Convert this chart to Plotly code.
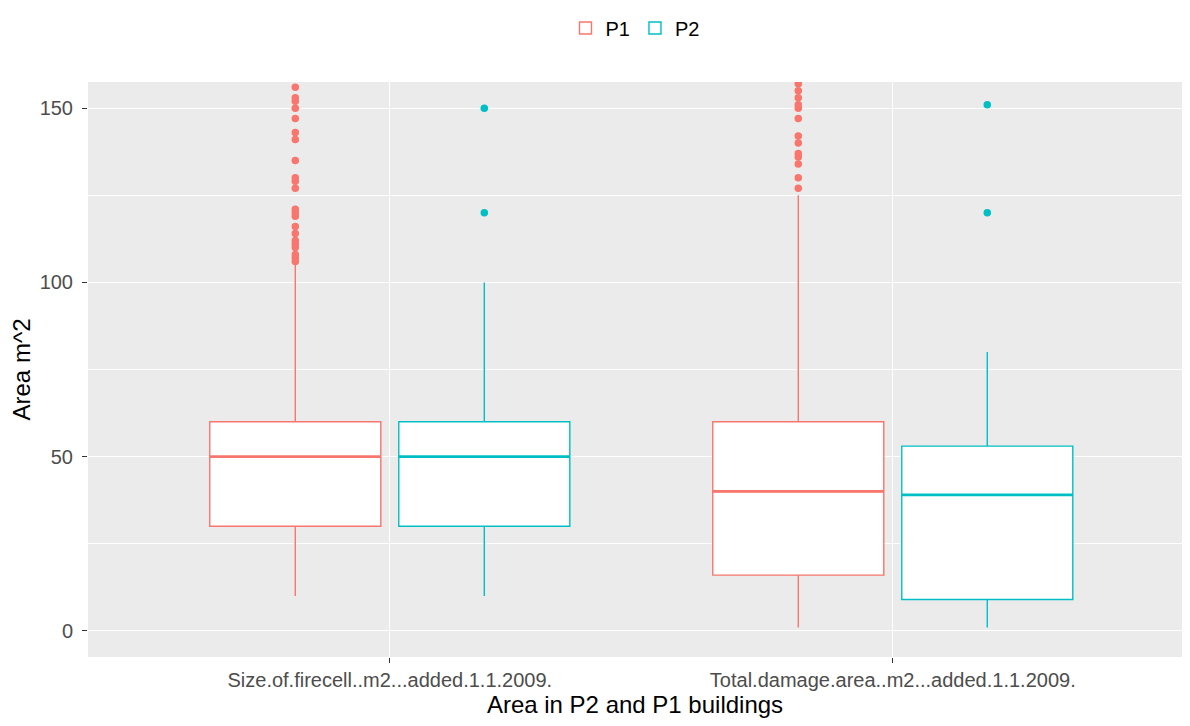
import plotly.graph_objects as go

categories = ["Size.of.firecell..m2...added.1.1.2009.", "Total.damage.area..m2...added.1.1.2009."]

# P1 box statistics (per category)
p1_q1 = [30, 16]
p1_median = [50, 40]
p1_q3 = [60, 60]
p1_lower = [10, 1]
p1_upper = [105, 125]
p1_out_cat1 = [106, 107, 108, 110, 111, 112, 114, 116, 119, 120, 121, 127, 129, 130, 135, 141, 143, 147, 150, 152, 153, 156]
p1_out_cat2 = [127, 130, 134, 136, 137, 140, 142, 147, 150, 151, 153, 155, 157, 158]

# P2 box statistics (per category)
p2_q1 = [30, 9]
p2_median = [50, 39]
p2_q3 = [60, 53]
p2_lower = [10, 1]
p2_upper = [100, 80]
p2_out_cat1 = [120, 150]
p2_out_cat2 = [120, 151]

col_p1 = "#F8766D"
col_p2 = "#00BFC4"

fig = go.Figure()

def add_group(name, color, q1, med, q3, lo, hi, out1, out2):
    # main box
    fig.add_trace(go.Box(
        name=name, x=categories, q1=q1, median=med, q3=q3,
        lowerfence=lo, upperfence=hi, boxpoints=False,
        fillcolor="white", line=dict(color=color, width=1.4),
        whiskerwidth=0, offsetgroup=name, legendgroup=name,
    ))
    # thicker median line (flat box at the median)
    fig.add_trace(go.Box(
        name=name, x=categories, q1=med, median=med, q3=med,
        lowerfence=med, upperfence=med, boxpoints=False,
        fillcolor="rgba(0,0,0,0)", line=dict(color=color, width=2.8),
        whiskerwidth=0, offsetgroup=name, legendgroup=name, showlegend=False,
        hoverinfo="skip",
    ))
    # outliers
    ox = [categories[0]] * len(out1) + [categories[1]] * len(out2)
    oy = list(out1) + list(out2)
    fig.add_trace(go.Box(
        name=name, x=ox, y=oy, boxpoints="all", jitter=0, pointpos=0,
        fillcolor="rgba(0,0,0,0)", line=dict(color="rgba(0,0,0,0)", width=0),
        marker=dict(color=color, size=7.5), whiskerwidth=0,
        offsetgroup=name, legendgroup=name, showlegend=False,
    ))

add_group("P1", col_p1, p1_q1, p1_median, p1_q3, p1_lower, p1_upper, p1_out_cat1, p1_out_cat2)
add_group("P2", col_p2, p2_q1, p2_median, p2_q3, p2_lower, p2_upper, p2_out_cat1, p2_out_cat2)

fig.update_layout(
    width=1174, height=710,
    margin=dict(l=80, r=0, t=74, b=61, autoexpand=False),
    paper_bgcolor="white", plot_bgcolor="#EBEBEB",
    boxmode="group", boxgap=0.2485, boxgroupgap=0.095,
    font=dict(family="Liberation Sans, Arial, sans-serif", color="#4D4D4D"),
    legend=dict(orientation="h", x=0.5, xanchor="center", y=1.094, yanchor="middle",
                font=dict(size=20, color="black"), bgcolor="rgba(0,0,0,0)",
                itemwidth=30, tracegroupgap=0),
    showlegend=True,
)

fig.update_xaxes(
    type="category", range=[-0.6, 1.575], automargin=False,
    showgrid=True, gridcolor="white", gridwidth=1.4,
    ticks="outside", ticklen=5, tickcolor="#333333", tickwidth=1,
    tickfont=dict(size=20, color="#4D4D4D"),
    title=dict(text="Area in P2 and P1 buildings", font=dict(size=24, color="black"), standoff=10),
    zeroline=False, showline=False,
)
fig.update_yaxes(
    range=[-7.5, 157.5], tickvals=[0, 50, 100, 150], automargin=False,
    showgrid=True, gridcolor="white", gridwidth=1.4,
    minor=dict(tickvals=[25, 75, 125], showgrid=True, gridcolor="white", gridwidth=0.7),
    ticks="outside", ticklen=5, tickcolor="#333333", tickwidth=1,
    tickfont=dict(size=20, color="#4D4D4D"), ticklabelstandoff=5,
    title=dict(text="Area m^2", font=dict(size=24, color="black"), standoff=6),
    zeroline=False, showline=False,
)

fig.write_html("out.html")
